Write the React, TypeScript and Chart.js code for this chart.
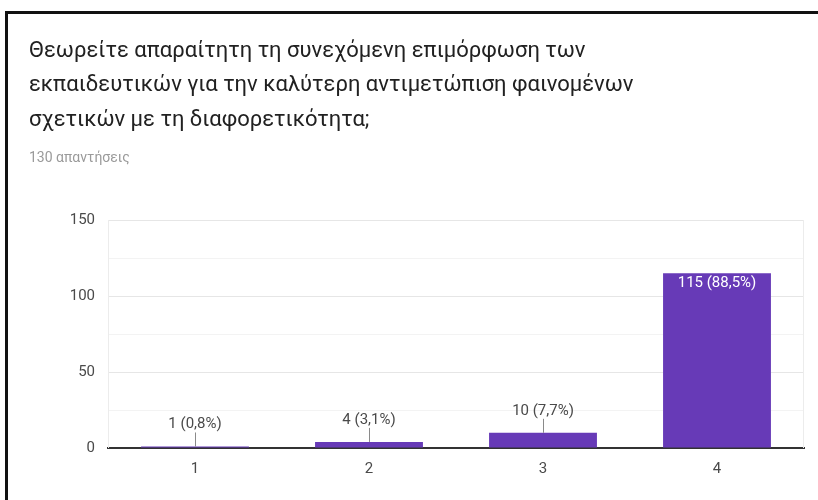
import React, { useEffect, useRef } from "react";
import { Chart, registerables } from "chart.js";

Chart.register(...registerables);

const titleLines = [
  "Θεωρείτε απαραίτητη τη συνεχόμενη επιμόρφωση των",
  "εκπαιδευτικών για την καλύτερη αντιμετώπιση φαινομένων",
  "σχετικών με τη διαφορετικότητα;",
];
const subtitle = "130 απαντήσεις";
const categories = ["1", "2", "3", "4"];
const counts = [1, 4, 10, 115];
const percents = ["0,8", "3,1", "7,7", "88,5"];
const yMax = 150;
const yStep = 25;
const yLabelStep = 50;

const FONT = 'Roboto, "Liberation Sans", Arial, sans-serif';
const BAR = "#673ab7";

const labelPlugin = {
  id: "barLabels",
  afterDatasetsDraw(chart: any) {
    const ctx = chart.ctx;
    const meta = chart.getDatasetMeta(0);
    const base = chart.scales.y.getPixelForValue(0);
    ctx.save();
    ctx.font = `15px ${FONT}`;
    ctx.textAlign = "center";
    ctx.textBaseline = "middle";
    meta.data.forEach((el: any, i: number) => {
      const text = `${counts[i]} (${percents[i]}%)`;
      const h = base - el.y;
      if (h > 40) {
        ctx.fillStyle = "#ffffff";
        ctx.fillText(text, el.x, el.y + 10);
      } else {
        ctx.strokeStyle = "#8a8a8a";
        ctx.lineWidth = 1;
        ctx.beginPath();
        ctx.moveTo(Math.round(el.x) + 0.5, el.y);
        ctx.lineTo(Math.round(el.x) + 0.5, el.y - 14);
        ctx.stroke();
        ctx.fillStyle = "#4a4a4a";
        ctx.fillText(text, el.x, el.y - 22);
      }
    });
    ctx.restore();
  },
};

const framePlugin = {
  id: "frameLines",
  beforeDatasetsDraw(chart: any) {
    const { ctx, chartArea } = chart;
    ctx.save();
    ctx.strokeStyle = "#ececec";
    ctx.lineWidth = 1;
    ctx.beginPath();
    ctx.moveTo(Math.round(chartArea.left) + 0.5, chartArea.top);
    ctx.lineTo(Math.round(chartArea.left) + 0.5, chartArea.bottom);
    ctx.moveTo(Math.round(chartArea.right) - 0.5, chartArea.top);
    ctx.lineTo(Math.round(chartArea.right) - 0.5, chartArea.bottom);
    ctx.stroke();
    ctx.restore();
  },
};

export default function App() {
  const ref = useRef<HTMLCanvasElement>(null);
  useEffect(() => {
    document.body.style.margin = "0";
    const chart = new Chart(ref.current!, {
      type: "bar",
      data: {
        labels: categories,
        datasets: [
          {
            data: counts,
            backgroundColor: BAR,
            borderWidth: 0,
            barPercentage: 0.62,
            categoryPercentage: 1,
          },
        ],
      },
      options: {
        animation: false,
        responsive: false,
        maintainAspectRatio: false,
        layout: { padding: { left: 0, right: 14, top: 220, bottom: 0 } },
        plugins: { legend: { display: false }, tooltip: { enabled: false }, title: { display: false } },
        scales: {
          x: {
            grid: { display: false },
            border: { display: true, color: "#333", width: 2 },
            ticks: { color: "#4a4a4a", font: { family: FONT, size: 15 }, padding: 4 },
            afterFit: (s: any) => {
              s.height = 52;
            },
          },
          y: {
            min: 0,
            max: yMax,
            border: { display: false },
            grid: {
              drawTicks: false,
              color: (c: any) => {
                const v = c.tick ? c.tick.value : 0;
                if (v === 0) return "rgba(0,0,0,0)";
                return v % yLabelStep === 0 ? "#e6e6e6" : "#f3f3f3";
              },
              lineWidth: 1,
            },
            ticks: {
              stepSize: yStep,
              padding: 13,
              color: "#4a4a4a",
              font: { family: FONT, size: 15 },
              callback: (v: any) => (Number(v) % yLabelStep === 0 ? String(v) : ""),
            },
            afterFit: (s: any) => {
              s.width = 108;
            },
          },
        },
      },
      plugins: [framePlugin, labelPlugin],
    });
    return () => chart.destroy();
  }, []);

  return (
    <div style={{ position: "relative", width: 818, height: 500, overflow: "hidden", background: "#fff" }}>
      <canvas ref={ref} width={818} height={500} style={{ position: "absolute", left: 0, top: 0 }} />
      <div
        style={{
          position: "absolute",
          left: 5,
          top: 11,
          width: 830,
          height: 500,
          borderTop: "3px solid #111",
          borderLeft: "3px solid #111",
          pointerEvents: "none",
        }}
      />
      <div
        style={{
          position: "absolute",
          left: 29,
          top: 32.75,
          fontFamily: FONT,
          fontSize: 22,
          lineHeight: "34.5px",
          color: "#212121",
          whiteSpace: "nowrap",
        }}
      >
        {titleLines.map((l, i) => (
          <div key={i}>{l}</div>
        ))}
      </div>
      <div
        style={{
          position: "absolute",
          left: 29,
          top: 150,
          fontFamily: FONT,
          fontSize: 14,
          lineHeight: "14px",
          color: "#9a9a9a",
          whiteSpace: "nowrap",
        }}
      >
        {subtitle}
      </div>
    </div>
  );
}
